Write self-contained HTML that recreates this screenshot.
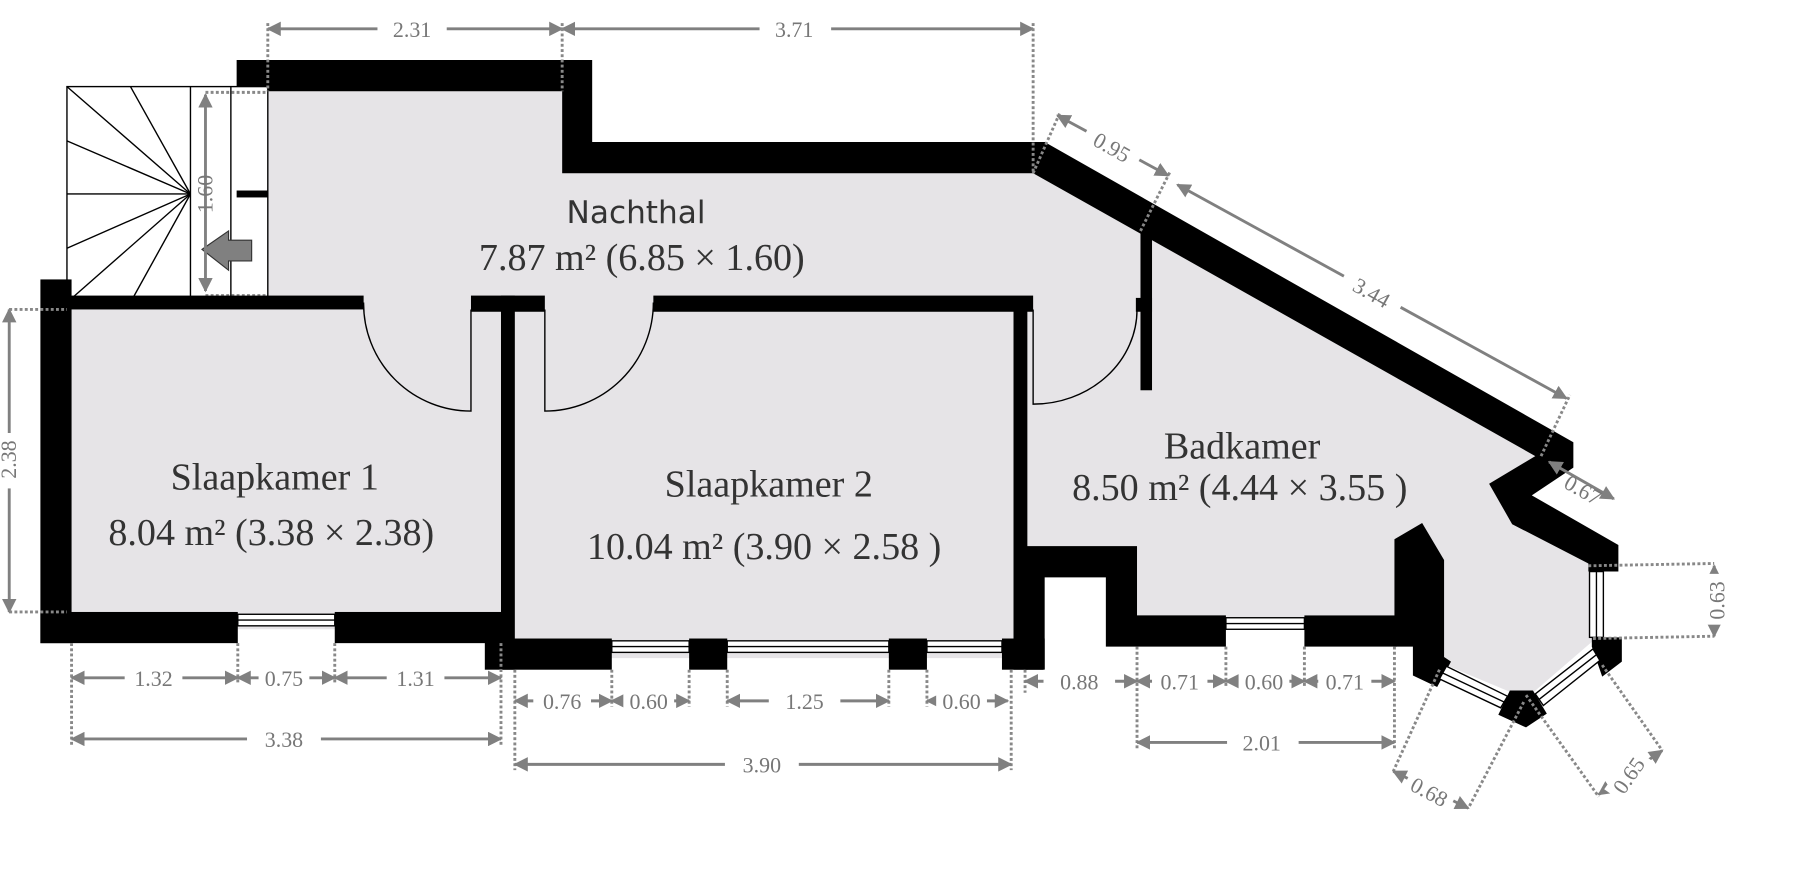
<!DOCTYPE html>
<html><head><meta charset="utf-8"><style>
html,body{margin:0;padding:0;background:#fff;}
svg{display:block;}
.d{stroke:#808080;stroke-width:2.5;fill:none;}
.e{stroke:#888;stroke-width:2.5;stroke-dasharray:2.5 2;fill:none;}
.t{font-family:"Liberation Serif",serif;font-size:19px;fill:#777;text-anchor:middle;}
.r{font-family:"Liberation Serif",serif;font-size:33px;fill:#333;text-anchor:middle;}
.bg{fill:#fff;}
</style></head><body>
<svg width="1810" height="881" viewBox="0 0 1568 763" preserveAspectRatio="none" xmlns="http://www.w3.org/2000/svg">
<defs>
<marker id="a" viewBox="0 0 10 10" refX="9" refY="5" markerWidth="5" markerHeight="5" orient="auto-start-reverse"><path d="M0,0 L10,5 L0,10 z" fill="#808080"/></marker>
</defs>
<polygon fill="#e6e4e7" points="232,79 487,79 487,150 895,150 1330,395 1290,419 1310,454 1376,488 1380,555 1322,605 1250,575 1250,485 1232,455 1208,467 1208,545 985,545 985,480 890,480 890,570 440,570 440,545 50,545 50,262 232,262"/>
<rect x="58" y="75" width="174" height="187" fill="#fff" stroke="#000" stroke-width="1.2"/>
<line x1="165" y1="75" x2="165" y2="262" stroke="#000" stroke-width="1.2"/>
<line x1="200" y1="75" x2="200" y2="262" stroke="#000" stroke-width="1.2"/>
<g stroke="#000" stroke-width="1.2">
<line x1="165" y1="168" x2="58" y2="75"/><line x1="165" y1="168" x2="113" y2="75"/><line x1="165" y1="168" x2="58" y2="122"/>
<line x1="165" y1="168" x2="58" y2="168"/><line x1="165" y1="168" x2="58" y2="215"/><line x1="165" y1="168" x2="58" y2="262"/><line x1="165" y1="168" x2="113" y2="262"/>
</g>
<rect x="205" y="165" width="27" height="6" fill="#000"/>
<polygon points="175,216 198,200 198,208 218,208 218,226 198,226 198,234" fill="#808080" stroke="#333" stroke-width="1"/>
<line class="d" x1="178" y1="252" x2="178" y2="82" marker-start="url(#a)" marker-end="url(#a)"/>
<text class="t" transform="translate(184,168) rotate(-90)">1.60</text>
<line class="e" x1="178" y1="80" x2="232" y2="80"/><line class="e" x1="178" y1="256" x2="232" y2="256"/>
<g fill="#000">
<polygon points="205,52 513,52 513,123 905,123 1363,383 1363,405 1327,429 1402,472 1402,495 1376,495 1376,488 1310,454 1290,419 1330,395 895,150 487,150 487,79 232,79 232,75 205,75"/>
<rect x="35" y="242" width="27" height="315"/>
<rect x="58" y="256" width="257" height="12"/>
<rect x="408" y="256" width="64" height="14"/>
<rect x="434" y="256" width="12" height="324"/>
<rect x="566" y="256" width="329" height="14"/>
<rect x="878" y="262" width="12" height="318"/>
<rect x="35" y="530" width="171" height="27"/>
<rect x="290" y="530" width="145" height="27"/>
<rect x="420" y="553" width="110" height="27"/>
<rect x="597" y="553" width="33" height="27"/>
<rect x="770" y="553" width="33" height="27"/>
<rect x="868" y="553" width="37" height="27"/>
<polygon points="888,473 985,473 985,533 1062,533 1062,560 958,560 958,500 905,500 905,580 888,580"/>
<rect x="1130" y="533" width="80" height="27"/>
<rect x="988" y="200" width="10" height="138"/>
<rect x="984" y="258" width="14" height="12"/>
<polygon points="1208,467 1232,453 1251,485 1251,569 1257,573 1245,595 1224,585 1224,560 1208,560"/>
<polygon points="1298,619 1308,598 1328,598 1340,618 1322,630"/>
<polygon points="1379,552 1405,552 1405,573 1388,586 1379,560"/>
</g>
<g fill="#fff" stroke="#000" stroke-width="1.2">
<rect x="206" y="532" width="84" height="10"/><line x1="206" y1="537" x2="290" y2="537"/>
<rect x="530" y="555" width="67" height="10"/><line x1="530" y1="560" x2="597" y2="560"/>
<rect x="630" y="555" width="140" height="10"/><line x1="630" y1="560" x2="770" y2="560"/>
<rect x="803" y="555" width="65" height="10"/><line x1="803" y1="560" x2="868" y2="560"/>
<rect x="1062" y="535" width="68" height="10"/><line x1="1062" y1="540" x2="1130" y2="540"/>
<rect x="1377" y="495" width="12" height="57"/><line x1="1383" y1="495" x2="1383" y2="552"/>
<polygon points="1253,577 1306,603 1300,613 1247,588"/><line x1="1250" y1="583" x2="1303" y2="608"/>
<polygon points="1330,601 1380,562 1386,572 1337,611"/><line x1="1333" y1="606" x2="1383" y2="567"/>
</g>
<g fill="none" stroke="#000" stroke-width="1.2">
<path d="M315,262 A93,93 0 0 0 408,356 L408,268"/>
<path d="M566,262 A94,94 0 0 1 472,356 L472,268"/>
<path d="M985,268 A90,82 0 0 1 895,350 L895,268"/>
</g>
<text x="551" y="193" style="font-family:'DejaVu Sans',sans-serif;font-size:27px;fill:#333;text-anchor:middle">Nachthal</text>
<text class="r" x="556" y="234">7.87 m² (6.85 × 1.60)</text>
<text class="r" x="238" y="424">Slaapkamer 1</text>
<text class="r" x="235" y="472">8.04 m² (3.38 × 2.38)</text>
<text class="r" x="666" y="430">Slaapkamer 2</text>
<text class="r" x="662" y="484">10.04 m² (3.90 × 2.58    )</text>
<text class="r" x="1076" y="397">Badkamer</text>
<text class="r" x="1074" y="433">8.50 m² (4.44 × 3.55    )</text>
<g>
<line class="d" x1="232" y1="25" x2="487" y2="25" marker-start="url(#a)" marker-end="url(#a)"/>
<line class="d" x1="487" y1="25" x2="895" y2="25" marker-start="url(#a)" marker-end="url(#a)"/>
<rect x="327" y="14" width="60" height="22" fill="#fff"/><text class="t" x="357" y="32">2.31</text>
<rect x="658" y="14" width="62" height="22" fill="#fff"/><text class="t" x="688" y="32">3.71</text>
<line class="e" x1="232" y1="20" x2="232" y2="79"/><line class="e" x1="487" y1="20" x2="487" y2="79"/><line class="e" x1="895" y1="20" x2="895" y2="150"/>
<line class="d" x1="8" y1="268" x2="8" y2="530" marker-start="url(#a)" marker-end="url(#a)"/>
<rect x="0" y="375" width="16" height="48" fill="#fff"/><text class="t" transform="translate(14,398) rotate(-90)">2.38</text>
<line class="e" x1="8" y1="268" x2="58" y2="268"/><line class="e" x1="8" y1="530" x2="58" y2="530"/>
<line class="e" x1="62" y1="557" x2="62" y2="645"/><line class="e" x1="206" y1="557" x2="206" y2="592"/><line class="e" x1="290" y1="557" x2="290" y2="592"/><line class="e" x1="434" y1="557" x2="434" y2="645"/>
<line class="d" x1="62" y1="587" x2="206" y2="587" marker-start="url(#a)" marker-end="url(#a)"/>
<line class="d" x1="206" y1="587" x2="290" y2="587" marker-start="url(#a)" marker-end="url(#a)"/>
<line class="d" x1="290" y1="587" x2="434" y2="587" marker-start="url(#a)" marker-end="url(#a)"/>
<line class="d" x1="62" y1="640" x2="434" y2="640" marker-start="url(#a)" marker-end="url(#a)"/>
<rect x="108" y="577" width="50" height="20" fill="#fff"/><text class="t" x="133" y="594">1.32</text>
<rect x="224" y="577" width="44" height="20" fill="#fff"/><text class="t" x="246" y="594">0.75</text>
<rect x="335" y="577" width="50" height="20" fill="#fff"/><text class="t" x="360" y="594">1.31</text>
<rect x="214" y="630" width="64" height="20" fill="#fff"/><text class="t" x="246" y="647">3.38</text>
<line class="e" x1="446" y1="580" x2="446" y2="667"/><line class="e" x1="530" y1="580" x2="530" y2="612"/><line class="e" x1="597" y1="580" x2="597" y2="612"/><line class="e" x1="630" y1="580" x2="630" y2="612"/><line class="e" x1="770" y1="580" x2="770" y2="612"/><line class="e" x1="803" y1="580" x2="803" y2="612"/><line class="e" x1="876" y1="580" x2="876" y2="667"/>
<line class="d" x1="446" y1="607" x2="530" y2="607" marker-start="url(#a)" marker-end="url(#a)"/>
<line class="d" x1="530" y1="607" x2="597" y2="607" marker-start="url(#a)" marker-end="url(#a)"/>
<line class="d" x1="630" y1="607" x2="770" y2="607" marker-start="url(#a)" marker-end="url(#a)"/>
<line class="d" x1="803" y1="607" x2="873" y2="607" marker-start="url(#a)" marker-end="url(#a)"/>
<line class="d" x1="446" y1="662" x2="876" y2="662" marker-start="url(#a)" marker-end="url(#a)"/>
<rect x="462" y="597" width="50" height="20" fill="#fff"/><text class="t" x="487" y="614">0.76</text>
<rect x="540" y="597" width="44" height="20" fill="#fff"/><text class="t" x="562" y="614">0.60</text>
<rect x="666" y="597" width="62" height="20" fill="#fff"/><text class="t" x="697" y="614">1.25</text>
<rect x="811" y="597" width="44" height="20" fill="#fff"/><text class="t" x="833" y="614">0.60</text>
<rect x="628" y="652" width="64" height="20" fill="#fff"/><text class="t" x="660" y="669">3.90</text>
<line class="e" x1="888" y1="580" x2="888" y2="600"/><line class="e" x1="985" y1="560" x2="985" y2="648"/><line class="e" x1="1062" y1="560" x2="1062" y2="595"/><line class="e" x1="1130" y1="560" x2="1130" y2="595"/><line class="e" x1="1208" y1="560" x2="1208" y2="648"/>
<line class="d" x1="888" y1="590" x2="985" y2="590" marker-start="url(#a)" marker-end="url(#a)"/>
<line class="d" x1="985" y1="590" x2="1062" y2="590" marker-start="url(#a)" marker-end="url(#a)"/>
<line class="d" x1="1062" y1="590" x2="1130" y2="590" marker-start="url(#a)" marker-end="url(#a)"/>
<line class="d" x1="1130" y1="590" x2="1208" y2="590" marker-start="url(#a)" marker-end="url(#a)"/>
<line class="d" x1="985" y1="643" x2="1208" y2="643" marker-start="url(#a)" marker-end="url(#a)"/>
<rect x="904" y="580" width="62" height="20" fill="#fff"/><text class="t" x="935" y="597">0.88</text>
<rect x="998" y="580" width="48" height="20" fill="#fff"/><text class="t" x="1022" y="597">0.71</text>
<rect x="1073" y="580" width="44" height="20" fill="#fff"/><text class="t" x="1095" y="597">0.60</text>
<rect x="1142" y="580" width="46" height="20" fill="#fff"/><text class="t" x="1165" y="597">0.71</text>
<rect x="1063" y="633" width="62" height="20" fill="#fff"/><text class="t" x="1093" y="650">2.01</text>
<line class="e" x1="895" y1="150" x2="918" y2="98"/><line class="e" x1="988" y1="200" x2="1014" y2="148"/><line class="e" x1="1335" y1="395" x2="1360" y2="342"/>
<line class="d" x1="916" y1="100" x2="1012" y2="152" marker-start="url(#a)" marker-end="url(#a)"/>
<line class="d" x1="1020" y1="160" x2="1357" y2="345" marker-start="url(#a)" marker-end="url(#a)"/>
<g transform="translate(963,128) rotate(29.6)"><rect x="-26" y="-12" width="52" height="22" fill="#fff"/><text class="t" x="0" y="6">0.95</text></g>
<g transform="translate(1188,254) rotate(29.6)"><rect x="-28" y="-12" width="56" height="22" fill="#fff"/><text class="t" x="0" y="6">3.44</text></g>
<line class="e" x1="1376" y1="490" x2="1485" y2="488"/><line class="e" x1="1380" y1="553" x2="1485" y2="551"/>
<line class="d" x1="1485" y1="490" x2="1485" y2="551" marker-start="url(#a)" marker-end="url(#a)"/>
<rect x="1477" y="497" width="18" height="44" fill="#fff"/><text class="t" transform="translate(1494,520) rotate(-90)">0.63</text>
<line class="d" x1="1342" y1="400" x2="1398" y2="432" marker-start="url(#a)" marker-end="url(#a)"/>
<g transform="translate(1368,430) rotate(29.6)"><text class="t" x="0" y="0">0.67</text></g>
<line class="e" x1="1388" y1="576" x2="1440" y2="650"/><line class="e" x1="1322" y1="602" x2="1385" y2="690"/>
<line class="d" x1="1385" y1="688" x2="1440" y2="650" marker-start="url(#a)" marker-end="url(#a)"/>
<g transform="translate(1413,673) rotate(-55)"><rect x="-22" y="-13" width="44" height="20" fill="#fff"/><text class="t" x="0" y="4">0.65</text></g>
<line class="e" x1="1247" y1="580" x2="1207" y2="668"/><line class="e" x1="1320" y1="608" x2="1272" y2="700"/>
<line class="d" x1="1207" y1="668" x2="1272" y2="700" marker-start="url(#a)" marker-end="url(#a)"/>
<g transform="translate(1237,688) rotate(28)"><rect x="-22" y="-13" width="44" height="20" fill="#fff"/><text class="t" x="0" y="4">0.68</text></g>
</g>
</svg>
</body></html>
